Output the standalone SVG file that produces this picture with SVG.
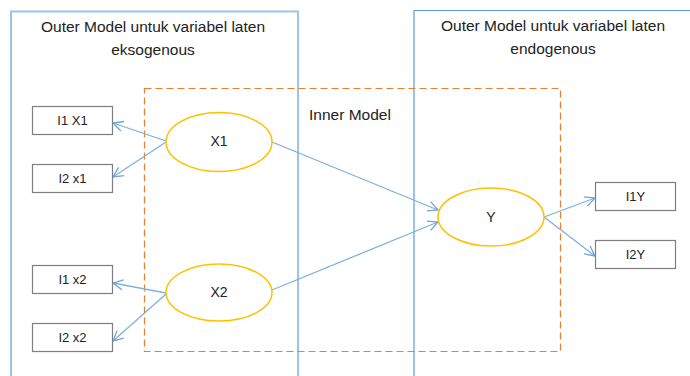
<svg xmlns="http://www.w3.org/2000/svg" width="690" height="376" viewBox="0 0 690 376">
<defs>
<style>
text{font-family:"Liberation Sans",Arial,sans-serif;fill:#222;text-anchor:middle}
.t{font-size:15.5px}
.e{font-size:14px}
.b{font-size:13px}
.ind{fill:#fff;stroke:#7f7f7f;stroke-width:1.2}
.lat{fill:#fff;stroke:#ffc000;stroke-width:1.5}
.c{stroke:#7fb0e0;stroke-width:1.3;fill:none;marker-end:url(#ah)}
</style>
<marker id="ah" viewBox="0 0 12 12" refX="11" refY="6" markerWidth="12" markerHeight="12" markerUnits="userSpaceOnUse" orient="auto">
<path d="M1,1 L11,6 L1,11" fill="none" stroke="#6fa5dc" stroke-width="1.3"/>
</marker>
</defs>
<rect width="690" height="376" fill="#fff"/>
<g id="outer-exo">
<path d="M11,380 V11.5 H298 V380" fill="none" stroke="#9dc3e6" stroke-width="2"/>
<text class="t" x="153" y="32">Outer Model untuk variabel laten</text>
<text class="t" x="153" y="55">eksogenous</text>
</g>
<g id="outer-endo">
<path d="M414,380 V10.5 H695" fill="none" stroke="#5b9bd5" stroke-width="1.2"/>
<text class="t" x="553" y="31">Outer Model untuk variabel laten</text>
<text class="t" x="553" y="54">endogenous</text>
</g>
<g id="inner">
<rect x="144.5" y="88.5" width="416" height="263" fill="none" stroke="#ed7d31" stroke-width="1.2" stroke-dasharray="7,4"/>
<text class="t" x="350" y="120">Inner Model</text>
</g>
<g id="connectors">
<line class="c" x1="166" y1="141" x2="113" y2="123"/>
<line class="c" x1="166" y1="142" x2="113" y2="177"/>
<line class="c" x1="272" y1="142" x2="438" y2="210"/>
<line class="c" x1="272" y1="290" x2="438" y2="222"/>
<line class="c" x1="166" y1="293" x2="113" y2="283"/>
<line class="c" x1="166" y1="294" x2="113" y2="341"/>
<line class="c" x1="544" y1="217" x2="595" y2="198"/>
<line class="c" x1="544" y1="217" x2="595" y2="256"/>
</g>
<g id="I1X1"><rect class="ind" x="32.5" y="106.5" width="80" height="28"/><text class="b" x="72.5" y="125">I1 X1</text></g>
<g id="I2x1"><rect class="ind" x="32.5" y="164.5" width="80" height="28"/><text class="b" x="72.5" y="183">I2 x1</text></g>
<g id="I1x2"><rect class="ind" x="32.5" y="265.5" width="80" height="28"/><text class="b" x="72.5" y="284">I1 x2</text></g>
<g id="I2x2"><rect class="ind" x="32.5" y="323.5" width="80" height="28"/><text class="b" x="72.5" y="342">I2 x2</text></g>
<g id="I1Y"><rect class="ind" x="595.5" y="182.5" width="80" height="28"/><text class="b" x="635.5" y="201">I1Y</text></g>
<g id="I2Y"><rect class="ind" x="595.5" y="240.5" width="80" height="28"/><text class="b" x="635.5" y="259">I2Y</text></g>
<g id="X1"><ellipse class="lat" cx="219" cy="142" rx="53" ry="29.5"/><text class="e" x="219" y="146">X1</text></g>
<g id="X2"><ellipse class="lat" cx="219" cy="292.5" rx="53" ry="28.5"/><text class="e" x="219" y="297">X2</text></g>
<g id="Y"><ellipse class="lat" cx="491" cy="217" rx="53" ry="29"/><text class="e" x="491" y="222">Y</text></g>
</svg>
